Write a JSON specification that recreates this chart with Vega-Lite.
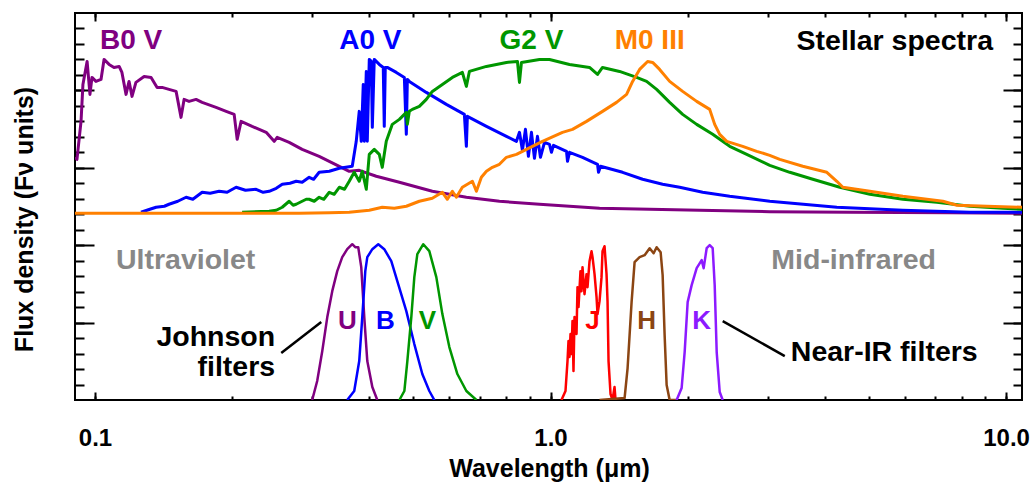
{
  "$schema": "https://vega.github.io/schema/vega-lite/v6.json",
  "width": 947,
  "height": 387,
  "autosize": {"type": "none"},
  "padding": {"left": 75, "top": 13, "right": 13, "bottom": 88},
  "background": "white",
  "config": {
    "view": {"stroke": "black", "strokeWidth": 2},
    "axis": {"domain": false, "ticks": false, "labelFlush": false, "labelOverlap": false,
      "grid": true, "gridColor": "black", "gridWidth": 2, "gridOpacity": 1}
  },
  "resolve": {"axis": {"x": "independent", "y": "independent"}},
  "datasets": {
    "spectra": [
      {"key":"B0 V","wl":0.0904,"flux":243},{"key":"B0 V","wl":0.0913,"flux":241},{"key":"B0 V","wl":0.0932,"flux":279},{"key":"B0 V","wl":0.0941,"flux":316},{"key":"B0 V","wl":0.0961,"flux":339},{"key":"B0 V","wl":0.0975,"flux":306},{"key":"B0 V","wl":0.0985,"flux":323},{"key":"B0 V","wl":0.1005,"flux":319},{"key":"B0 V","wl":0.1031,"flux":321},{"key":"B0 V","wl":0.1047,"flux":341},{"key":"B0 V","wl":0.1074,"flux":336},{"key":"B0 V","wl":0.1101,"flux":333},{"key":"B0 V","wl":0.1130,"flux":334},{"key":"B0 V","wl":0.1146,"flux":328},{"key":"B0 V","wl":0.1170,"flux":306},{"key":"B0 V","wl":0.1188,"flux":319},{"key":"B0 V","wl":0.1206,"flux":304},{"key":"B0 V","wl":0.1230,"flux":318},{"key":"B0 V","wl":0.1282,"flux":324},{"key":"B0 V","wl":0.1328,"flux":323},{"key":"B0 V","wl":0.1369,"flux":313},{"key":"B0 V","wl":0.1404,"flux":313},{"key":"B0 V","wl":0.1454,"flux":311},{"key":"B0 V","wl":0.1507,"flux":309},{"key":"B0 V","wl":0.1545,"flux":283},{"key":"B0 V","wl":0.1569,"flux":301},{"key":"B0 V","wl":0.1609,"flux":299},{"key":"B0 V","wl":0.1667,"flux":301},{"key":"B0 V","wl":0.1719,"flux":298},{"key":"B0 V","wl":0.1844,"flux":293},{"key":"B0 V","wl":0.1941,"flux":289},{"key":"B0 V","wl":0.2021,"flux":286},{"key":"B0 V","wl":0.2052,"flux":261},{"key":"B0 V","wl":0.2093,"flux":279},{"key":"B0 V","wl":0.2213,"flux":274},{"key":"B0 V","wl":0.2376,"flux":268},{"key":"B0 V","wl":0.2474,"flux":259},{"key":"B0 V","wl":0.2512,"flux":263},{"key":"B0 V","wl":0.2669,"flux":258},{"key":"B0 V","wl":0.2850,"flux":251},{"key":"B0 V","wl":0.3106,"flux":244},{"key":"B0 V","wl":0.3438,"flux":234},{"key":"B0 V","wl":0.3616,"flux":229},{"key":"B0 V","wl":0.3803,"flux":230},{"key":"B0 V","wl":0.4145,"flux":224},{"key":"B0 V","wl":0.4658,"flux":218},{"key":"B0 V","wl":0.5503,"flux":209},{"key":"B0 V","wl":0.6536,"flux":203},{"key":"B0 V","wl":0.7724,"flux":199},{"key":"B0 V","wl":0.9458,"flux":196},{"key":"B0 V","wl":1.2813,"flux":192},{"key":"B0 V","wl":1.6505,"flux":191},{"key":"B0 V","wl":2.1256,"flux":190},{"key":"B0 V","wl":3.029,"flux":188.5},{"key":"B0 V","wl":4.5406,"flux":188},{"key":"B0 V","wl":7.5312,"flux":187.5},{"key":"B0 V","wl":10.84,"flux":187},

      {"key":"A0 V","wl":0.1262,"flux":188},{"key":"A0 V","wl":0.1320,"flux":191},{"key":"A0 V","wl":0.1362,"flux":193},{"key":"A0 V","wl":0.1420,"flux":194},{"key":"A0 V","wl":0.1454,"flux":196},{"key":"A0 V","wl":0.1520,"flux":199},{"key":"A0 V","wl":0.1585,"flux":203},{"key":"A0 V","wl":0.1640,"flux":201},{"key":"A0 V","wl":0.1719,"flux":208},{"key":"A0 V","wl":0.1790,"flux":207},{"key":"A0 V","wl":0.1873,"flux":209},{"key":"A0 V","wl":0.1950,"flux":208},{"key":"A0 V","wl":0.2041,"flux":213},{"key":"A0 V","wl":0.2140,"flux":210},{"key":"A0 V","wl":0.2258,"flux":211},{"key":"A0 V","wl":0.2340,"flux":208},{"key":"A0 V","wl":0.2412,"flux":209},{"key":"A0 V","wl":0.2500,"flux":212},{"key":"A0 V","wl":0.2577,"flux":216},{"key":"A0 V","wl":0.2680,"flux":217},{"key":"A0 V","wl":0.2765,"flux":219},{"key":"A0 V","wl":0.2850,"flux":218},{"key":"A0 V","wl":0.2953,"flux":223},{"key":"A0 V","wl":0.3020,"flux":221},{"key":"A0 V","wl":0.3106,"flux":228},{"key":"A0 V","wl":0.3269,"flux":229},{"key":"A0 V","wl":0.3438,"flux":232},{"key":"A0 V","wl":0.3671,"flux":234},{"key":"A0 V","wl":0.3746,"flux":259},{"key":"A0 V","wl":0.3803,"flux":289},{"key":"A0 V","wl":0.3842,"flux":259},{"key":"A0 V","wl":0.3881,"flux":316},{"key":"A0 V","wl":0.3901,"flux":259},{"key":"A0 V","wl":0.3941,"flux":329},{"key":"A0 V","wl":0.3961,"flux":259},{"key":"A0 V","wl":0.4001,"flux":341},{"key":"A0 V","wl":0.4042,"flux":339},{"key":"A0 V","wl":0.4063,"flux":273},{"key":"A0 V","wl":0.4103,"flux":341},{"key":"A0 V","wl":0.4145,"flux":339},{"key":"A0 V","wl":0.4209,"flux":336},{"key":"A0 V","wl":0.4294,"flux":333},{"key":"A0 V","wl":0.4316,"flux":274},{"key":"A0 V","wl":0.4338,"flux":333},{"key":"A0 V","wl":0.4382,"flux":333},{"key":"A0 V","wl":0.4587,"flux":328},{"key":"A0 V","wl":0.4777,"flux":323},{"key":"A0 V","wl":0.4825,"flux":266},{"key":"A0 V","wl":0.4850,"flux":321},{"key":"A0 V","wl":0.4899,"flux":319},{"key":"A0 V","wl":0.5338,"flux":308},{"key":"A0 V","wl":0.5907,"flux":296},{"key":"A0 V","wl":0.6470,"flux":286},{"key":"A0 V","wl":0.6536,"flux":254},{"key":"A0 V","wl":0.6569,"flux":284},{"key":"A0 V","wl":0.7233,"flux":274},{"key":"A0 V","wl":0.8002,"flux":264},{"key":"A0 V","wl":0.8418,"flux":259},{"key":"A0 V","wl":0.8548,"flux":268},{"key":"A0 V","wl":0.8677,"flux":250},{"key":"A0 V","wl":0.8810,"flux":271},{"key":"A0 V","wl":0.8944,"flux":244},{"key":"A0 V","wl":0.9082,"flux":268},{"key":"A0 V","wl":0.9221,"flux":242},{"key":"A0 V","wl":0.9362,"flux":264},{"key":"A0 V","wl":0.9505,"flux":243},{"key":"A0 V","wl":0.9700,"flux":258},{"key":"A0 V","wl":0.9949,"flux":256},{"key":"A0 V","wl":1.0049,"flux":248},{"key":"A0 V","wl":1.0152,"flux":255},{"key":"A0 V","wl":1.0842,"flux":249},{"key":"A0 V","wl":1.0897,"flux":239},{"key":"A0 V","wl":1.1008,"flux":248},{"key":"A0 V","wl":1.1756,"flux":243},{"key":"A0 V","wl":1.2683,"flux":236},{"key":"A0 V","wl":1.2747,"flux":228},{"key":"A0 V","wl":1.2878,"flux":234},{"key":"A0 V","wl":1.4396,"flux":228},{"key":"A0 V","wl":1.5929,"flux":221},{"key":"A0 V","wl":1.7626,"flux":216},{"key":"A0 V","wl":1.9210,"flux":213},{"key":"A0 V","wl":2.1580,"flux":208},{"key":"A0 V","wl":2.4740,"flux":204},{"key":"A0 V","wl":3.029,"flux":199},{"key":"A0 V","wl":4.2514,"flux":193},{"key":"A0 V","wl":5.9369,"flux":190},{"key":"A0 V","wl":8.3333,"flux":188},{"key":"A0 V","wl":10.84,"flux":188},

      {"key":"G2 V","wl":0.2104,"flux":188},{"key":"G2 V","wl":0.2412,"flux":189},{"key":"G2 V","wl":0.2500,"flux":190},{"key":"G2 V","wl":0.2577,"flux":193},{"key":"G2 V","wl":0.2669,"flux":199},{"key":"G2 V","wl":0.2723,"flux":195},{"key":"G2 V","wl":0.2765,"flux":196},{"key":"G2 V","wl":0.2850,"flux":199},{"key":"G2 V","wl":0.2909,"flux":201},{"key":"G2 V","wl":0.2953,"flux":201},{"key":"G2 V","wl":0.3029,"flux":199},{"key":"G2 V","wl":0.3106,"flux":203},{"key":"G2 V","wl":0.3180,"flux":201},{"key":"G2 V","wl":0.3269,"flux":208},{"key":"G2 V","wl":0.3350,"flux":206},{"key":"G2 V","wl":0.3438,"flux":213},{"key":"G2 V","wl":0.3530,"flux":211},{"key":"G2 V","wl":0.3616,"flux":219},{"key":"G2 V","wl":0.3708,"flux":228},{"key":"G2 V","wl":0.3803,"flux":219},{"key":"G2 V","wl":0.3862,"flux":229},{"key":"G2 V","wl":0.3941,"flux":211},{"key":"G2 V","wl":0.4001,"flux":246},{"key":"G2 V","wl":0.4103,"flux":251},{"key":"G2 V","wl":0.4209,"flux":246},{"key":"G2 V","wl":0.4273,"flux":233},{"key":"G2 V","wl":0.4360,"flux":259},{"key":"G2 V","wl":0.4495,"flux":276},{"key":"G2 V","wl":0.4658,"flux":281},{"key":"G2 V","wl":0.4825,"flux":288},{"key":"G2 V","wl":0.4850,"flux":276},{"key":"G2 V","wl":0.4899,"flux":289},{"key":"G2 V","wl":0.4974,"flux":291},{"key":"G2 V","wl":0.5153,"flux":294},{"key":"G2 V","wl":0.5338,"flux":301},{"key":"G2 V","wl":0.5503,"flux":309},{"key":"G2 V","wl":0.5789,"flux":316},{"key":"G2 V","wl":0.6089,"flux":323},{"key":"G2 V","wl":0.6405,"flux":328},{"key":"G2 V","wl":0.6536,"flux":314},{"key":"G2 V","wl":0.6636,"flux":329},{"key":"G2 V","wl":0.7233,"flux":334},{"key":"G2 V","wl":0.8002,"flux":338},{"key":"G2 V","wl":0.8461,"flux":339},{"key":"G2 V","wl":0.8548,"flux":318},{"key":"G2 V","wl":0.8634,"flux":338},{"key":"G2 V","wl":0.9458,"flux":341},{"key":"G2 V","wl":0.9949,"flux":341},{"key":"G2 V","wl":1.1008,"flux":336},{"key":"G2 V","wl":1.2181,"flux":333},{"key":"G2 V","wl":1.2683,"flux":326},{"key":"G2 V","wl":1.3007,"flux":333},{"key":"G2 V","wl":1.4177,"flux":329},{"key":"G2 V","wl":1.5453,"flux":323},{"key":"G2 V","wl":1.6255,"flux":319},{"key":"G2 V","wl":1.7098,"flux":311},{"key":"G2 V","wl":1.8262,"flux":298},{"key":"G2 V","wl":1.9503,"flux":286},{"key":"G2 V","wl":2.0935,"flux":276},{"key":"G2 V","wl":2.27,"flux":266},{"key":"G2 V","wl":2.474,"flux":254},{"key":"G2 V","wl":2.6961,"flux":246},{"key":"G2 V","wl":3.029,"flux":235},{"key":"G2 V","wl":3.3516,"flux":228},{"key":"G2 V","wl":3.7652,"flux":221},{"key":"G2 V","wl":4.3166,"flux":213},{"key":"G2 V","wl":5.0242,"flux":206},{"key":"G2 V","wl":5.9369,"flux":201},{"key":"G2 V","wl":7.0514,"flux":198},{"key":"G2 V","wl":8.3333,"flux":194},{"key":"G2 V","wl":9.8469,"flux":192},{"key":"G2 V","wl":10.84,"flux":191},

      {"key":"M0 III","wl":0.0904,"flux":187},{"key":"M0 III","wl":0.2807,"flux":187},{"key":"M0 III","wl":0.3269,"flux":187.5},{"key":"M0 III","wl":0.3616,"flux":188},{"key":"M0 III","wl":0.4001,"flux":190},{"key":"M0 III","wl":0.4273,"flux":193},{"key":"M0 III","wl":0.4541,"flux":192},{"key":"M0 III","wl":0.4825,"flux":194},{"key":"M0 III","wl":0.5153,"flux":199},{"key":"M0 III","wl":0.5503,"flux":202},{"key":"M0 III","wl":0.5789,"flux":208},{"key":"M0 III","wl":0.5937,"flux":201},{"key":"M0 III","wl":0.6089,"flux":209},{"key":"M0 III","wl":0.6213,"flux":203},{"key":"M0 III","wl":0.6405,"flux":213},{"key":"M0 III","wl":0.6738,"flux":219},{"key":"M0 III","wl":0.6876,"flux":209},{"key":"M0 III","wl":0.7051,"flux":223},{"key":"M0 III","wl":0.7233,"flux":229},{"key":"M0 III","wl":0.7455,"flux":233},{"key":"M0 III","wl":0.7724,"flux":236},{"key":"M0 III","wl":0.8002,"flux":243},{"key":"M0 III","wl":0.8418,"flux":246},{"key":"M0 III","wl":0.8855,"flux":251},{"key":"M0 III","wl":0.9602,"flux":259},{"key":"M0 III","wl":1.0625,"flux":268},{"key":"M0 III","wl":1.1176,"flux":271},{"key":"M0 III","wl":1.1997,"flux":279},{"key":"M0 III","wl":1.3007,"flux":289},{"key":"M0 III","wl":1.3962,"flux":298},{"key":"M0 III","wl":1.469,"flux":306},{"key":"M0 III","wl":1.5143,"flux":319},{"key":"M0 III","wl":1.569,"flux":331},{"key":"M0 III","wl":1.6337,"flux":339},{"key":"M0 III","wl":1.6756,"flux":338},{"key":"M0 III","wl":1.7361,"flux":331},{"key":"M0 III","wl":1.8262,"flux":319},{"key":"M0 III","wl":1.9503,"flux":309},{"key":"M0 III","wl":2.0935,"flux":299},{"key":"M0 III","wl":2.2359,"flux":291},{"key":"M0 III","wl":2.2931,"flux":276},{"key":"M0 III","wl":2.352,"flux":266},{"key":"M0 III","wl":2.4366,"flux":259},{"key":"M0 III","wl":2.6421,"flux":254},{"key":"M0 III","wl":2.836,"flux":249},{"key":"M0 III","wl":3.029,"flux":245},{"key":"M0 III","wl":3.1862,"flux":241},{"key":"M0 III","wl":3.5792,"flux":234},{"key":"M0 III","wl":4.0416,"flux":228},{"key":"M0 III","wl":4.2514,"flux":219},{"key":"M0 III","wl":4.3824,"flux":213},{"key":"M0 III","wl":5.0242,"flux":209},{"key":"M0 III","wl":5.9369,"flux":204},{"key":"M0 III","wl":7.2687,"flux":199},{"key":"M0 III","wl":7.8024,"flux":195},{"key":"M0 III","wl":9.0813,"flux":194},{"key":"M0 III","wl":10.84,"flux":193}
    ],
    "filters": [
      {"key":"U","wl":0.2998,"trans":0},{"key":"U","wl":0.3075,"trans":19},{"key":"U","wl":0.3155,"trans":49},{"key":"U","wl":0.3236,"trans":83},{"key":"U","wl":0.3318,"trans":109},{"key":"U","wl":0.3403,"trans":129},{"key":"U","wl":0.349,"trans":143},{"key":"U","wl":0.3579,"trans":151},{"key":"U","wl":0.3671,"trans":156},{"key":"U","wl":0.3727,"trans":153},{"key":"U","wl":0.3784,"trans":153},{"key":"U","wl":0.3842,"trans":133},{"key":"U","wl":0.3901,"trans":83},{"key":"U","wl":0.3961,"trans":39},{"key":"U","wl":0.4063,"trans":13},{"key":"U","wl":0.4166,"trans":0},
      {"key":"B","wl":0.3579,"trans":0},{"key":"B","wl":0.3708,"trans":9},{"key":"B","wl":0.3803,"trans":39},{"key":"B","wl":0.3862,"trans":83},{"key":"B","wl":0.3921,"trans":129},{"key":"B","wl":0.3961,"trans":143},{"key":"B","wl":0.4063,"trans":151},{"key":"B","wl":0.4187,"trans":156},{"key":"B","wl":0.4316,"trans":151},{"key":"B","wl":0.4472,"trans":139},{"key":"B","wl":0.461,"trans":119},{"key":"B","wl":0.4825,"trans":89},{"key":"B","wl":0.5024,"trans":56},{"key":"B","wl":0.5231,"trans":26},{"key":"B","wl":0.542,"trans":9},{"key":"B","wl":0.5559,"trans":0},
      {"key":"V","wl":0.4658,"trans":0},{"key":"V","wl":0.4777,"trans":9},{"key":"V","wl":0.485,"trans":39},{"key":"V","wl":0.4948,"trans":83},{"key":"V","wl":0.5024,"trans":123},{"key":"V","wl":0.5101,"trans":146},{"key":"V","wl":0.5257,"trans":156},{"key":"V","wl":0.542,"trans":149},{"key":"V","wl":0.5615,"trans":123},{"key":"V","wl":0.5789,"trans":86},{"key":"V","wl":0.5997,"trans":53},{"key":"V","wl":0.6245,"trans":26},{"key":"V","wl":0.6536,"trans":9},{"key":"V","wl":0.6876,"trans":0},
      {"key":"J","wl":1.057,"trans":0},{"key":"J","wl":1.0787,"trans":9},{"key":"J","wl":1.0897,"trans":39},{"key":"J","wl":1.0952,"trans":59},{"key":"J","wl":1.1008,"trans":43},{"key":"J","wl":1.1064,"trans":66},{"key":"J","wl":1.112,"trans":46},{"key":"J","wl":1.1176,"trans":79},{"key":"J","wl":1.1232,"trans":29},{"key":"J","wl":1.129,"trans":83},{"key":"J","wl":1.1405,"trans":66},{"key":"J","wl":1.1462,"trans":113},{"key":"J","wl":1.152,"trans":93},{"key":"J","wl":1.1637,"trans":129},{"key":"J","wl":1.1696,"trans":109},{"key":"J","wl":1.1756,"trans":133},{"key":"J","wl":1.1876,"trans":106},{"key":"J","wl":1.1997,"trans":126},{"key":"J","wl":1.2057,"trans":113},{"key":"J","wl":1.2181,"trans":139},{"key":"J","wl":1.2304,"trans":149},{"key":"J","wl":1.2367,"trans":143},{"key":"J","wl":1.2493,"trans":126},{"key":"J","wl":1.262,"trans":103},{"key":"J","wl":1.2683,"trans":86},{"key":"J","wl":1.2813,"trans":99},{"key":"J","wl":1.2942,"trans":123},{"key":"J","wl":1.3007,"trans":149},{"key":"J","wl":1.314,"trans":154},{"key":"J","wl":1.3274,"trans":126},{"key":"J","wl":1.3341,"trans":99},{"key":"J","wl":1.3409,"trans":39},{"key":"J","wl":1.3545,"trans":6},{"key":"J","wl":1.3683,"trans":0},{"key":"J","wl":1.3822,"trans":13},{"key":"J","wl":1.3892,"trans":0},
      {"key":"H","wl":1.2813,"trans":0},{"key":"H","wl":1.4542,"trans":2},{"key":"H","wl":1.4765,"trans":32},{"key":"H","wl":1.5066,"trans":98},{"key":"H","wl":1.5297,"trans":138},{"key":"H","wl":1.569,"trans":143},{"key":"H","wl":1.6091,"trans":145},{"key":"H","wl":1.6505,"trans":152},{"key":"H","wl":1.684,"trans":147},{"key":"H","wl":1.7098,"trans":153},{"key":"H","wl":1.7448,"trans":148},{"key":"H","wl":1.7626,"trans":125},{"key":"H","wl":1.7804,"trans":65},{"key":"H","wl":1.7986,"trans":15},{"key":"H","wl":1.8262,"trans":0},{"key":"H","wl":1.892,"trans":0},
      {"key":"K","wl":1.892,"trans":0},{"key":"K","wl":1.9403,"trans":12},{"key":"K","wl":1.9701,"trans":48},{"key":"K","wl":2.0002,"trans":98},{"key":"K","wl":2.0411,"trans":115},{"key":"K","wl":2.0935,"trans":132},{"key":"K","wl":2.147,"trans":140},{"key":"K","wl":2.1688,"trans":132},{"key":"K","wl":2.2021,"trans":152},{"key":"K","wl":2.2359,"trans":155},{"key":"K","wl":2.27,"trans":152},{"key":"K","wl":2.2931,"trans":115},{"key":"K","wl":2.3164,"trans":48},{"key":"K","wl":2.352,"trans":8},{"key":"K","wl":2.3877,"trans":0}
    ],
    "leaders": [
      {"id":"Johnson","wl":0.2564,"v":47},{"id":"Johnson","wl":0.3139,"v":78},
      {"id":"Near-IR","wl":2.388,"v":79},{"id":"Near-IR","wl":3.268,"v":44}
    ],
    "centerText": [
      {"label":"B0 V","key":"B0 V","wl":0.12,"v":351},
      {"label":"A0 V","key":"A0 V","wl":0.4022,"v":351},
      {"label":"G2 V","key":"G2 V","wl":0.9082,"v":351},
      {"label":"M0 III","key":"M0 III","wl":1.651,"v":351}
    ],
    "bandText": [
      {"label":"U","key":"U","wl":0.358,"v":71},
      {"label":"B","key":"B","wl":0.434,"v":71},
      {"label":"V","key":"V","wl":0.5366,"v":71},
      {"label":"J","key":"J","wl":1.237,"v":71},
      {"label":"H","key":"H","wl":1.626,"v":71},
      {"label":"K","key":"K","wl":2.147,"v":71}
    ],
    "rightText": [
      {"label":"Stellar spectra","key":"note","wl":9.363,"v":350},
      {"label":"Johnson","key":"note","wl":0.2486,"v":54},
      {"label":"filters","key":"note","wl":0.2486,"v":24},
      {"label":"Mid-infrared","key":"region","wl":7.018,"v":131}
    ],
    "leftText": [
      {"label":"Ultraviolet","key":"region","wl":0.1112,"v":131},
      {"label":"Near-IR filters","key":"note","wl":3.369,"v":39}
    ]
  },
  "layer": [
    {
      "data": {"name": "spectra"},
      "mark": {"type": "line", "strokeWidth": 3, "clip": true, "strokeJoin": "round"},
      "encoding": {
        "x": {"field": "wl", "type": "quantitative",
          "scale": {"type": "log", "domain": [0.0904, 10.84], "nice": false, "zero": false},
          "axis": {"orient": "bottom",
            "values": [0.1,0.2,0.3,0.4,0.5,0.6,0.7,0.8,0.9,1,2,3,4,5,6,7,8,9,10],
            "labelExpr": "(datum.value == 0.1 || datum.value == 1 || datum.value == 10) ? format(datum.value, '.1f') : ''",
            "grid": true, "gridDash": [4, 379, 4, 3000],
            "labelPadding": 45, "labelBaseline": "alphabetic",
            "labelFont": "Liberation Sans", "labelFontWeight": "bold", "labelFontSize": 24, "labelColor": "black",
            "title": "Wavelength (μm)", "titleFont": "Liberation Sans", "titleFontWeight": "bold", "titleFontSize": 25,
            "titleColor": "black", "titleX": 474, "titleY": 76, "titleBaseline": "alphabetic", "titleAlign": "center"}},
        "y": {"field": "flux", "type": "quantitative",
          "scale": {"domain": [0, 387.5], "nice": false, "zero": false},
          "axis": {"orient": "left",
            "values": [15.5,31,46.5,62,77.5,93,108.5,124,139.5,155,170.5,186,201.5,217,232.5,248,263.5,279,294.5,310,325.5,341,356.5,372],
            "labels": false,
            "grid": true, "gridDash": [9, 929, 9, 3000],
            "title": "Flux density (Fν units)", "titleFont": "Liberation Sans", "titleFontWeight": "bold", "titleFontSize": 25,
            "titleColor": "black", "titleX": -43, "titleY": 206, "titleAngle": 270, "titleBaseline": "alphabetic", "titleAlign": "center"}},
        "color": {"field": "key", "type": "nominal", "legend": null,
          "scale": {"domain": ["B0 V","A0 V","G2 V","M0 III","U","B","V","J","H","K","note","region"],
            "range": ["#800080","#0000ff","#009600","#ff8000","#800080","#0000ff","#009600","#ff0000","#8b4513","#8c1aff","#000000","#888888"]}}
      }
    },
    {
      "data": {"name": "filters"},
      "mark": {"type": "line", "strokeWidth": 2.5, "clip": true, "strokeJoin": "round"},
      "encoding": {
        "x": {"field": "wl", "type": "quantitative", "scale": {"type": "log", "domain": [0.0904, 10.84], "nice": false, "zero": false},
          "axis": {"orient": "top", "values": [0.1, 1, 10], "labels": false,
            "grid": true, "gridDash": [8, 371, 8, 3000], "title": null}},
        "y": {"field": "trans", "type": "quantitative", "scale": {"domain": [0, 387.5], "nice": false, "zero": false},
          "axis": {"orient": "right", "values": [77.5, 155, 232.5, 310], "labels": false,
            "grid": true, "gridDash": [19, 909, 19, 3000], "title": null}},
        "color": {"field": "key", "type": "nominal", "legend": null}
      }
    },
    {
      "data": {"name": "leaders"},
      "mark": {"type": "line", "strokeWidth": 2.5, "color": "black"},
      "encoding": {
        "x": {"field": "wl", "type": "quantitative", "axis": null},
        "y": {"field": "v", "type": "quantitative", "axis": null},
        "detail": {"field": "id"}
      }
    },
    {
      "data": {"name": "centerText"},
      "mark": {"type": "text", "font": "Liberation Sans", "fontWeight": "bold", "fontSize": 28, "align": "center", "baseline": "alphabetic"},
      "encoding": {
        "x": {"field": "wl", "type": "quantitative", "axis": null},
        "y": {"field": "v", "type": "quantitative", "axis": null},
        "text": {"field": "label"},
        "color": {"field": "key", "type": "nominal", "legend": null}
      }
    },
    {
      "data": {"name": "bandText"},
      "mark": {"type": "text", "font": "Liberation Sans", "fontWeight": "bold", "fontSize": 26, "align": "center", "baseline": "alphabetic"},
      "encoding": {
        "x": {"field": "wl", "type": "quantitative", "axis": null},
        "y": {"field": "v", "type": "quantitative", "axis": null},
        "text": {"field": "label"},
        "color": {"field": "key", "type": "nominal", "legend": null}
      }
    },
    {
      "data": {"name": "rightText"},
      "mark": {"type": "text", "font": "Liberation Sans", "fontWeight": "bold", "fontSize": 28.5, "align": "right", "baseline": "alphabetic"},
      "encoding": {
        "x": {"field": "wl", "type": "quantitative", "axis": null},
        "y": {"field": "v", "type": "quantitative", "axis": null},
        "text": {"field": "label"},
        "color": {"field": "key", "type": "nominal", "legend": null}
      }
    },
    {
      "data": {"name": "leftText"},
      "mark": {"type": "text", "font": "Liberation Sans", "fontWeight": "bold", "fontSize": 28.5, "align": "left", "baseline": "alphabetic"},
      "encoding": {
        "x": {"field": "wl", "type": "quantitative", "axis": null},
        "y": {"field": "v", "type": "quantitative", "axis": null},
        "text": {"field": "label"},
        "color": {"field": "key", "type": "nominal", "legend": null}
      }
    }
  ]
}
